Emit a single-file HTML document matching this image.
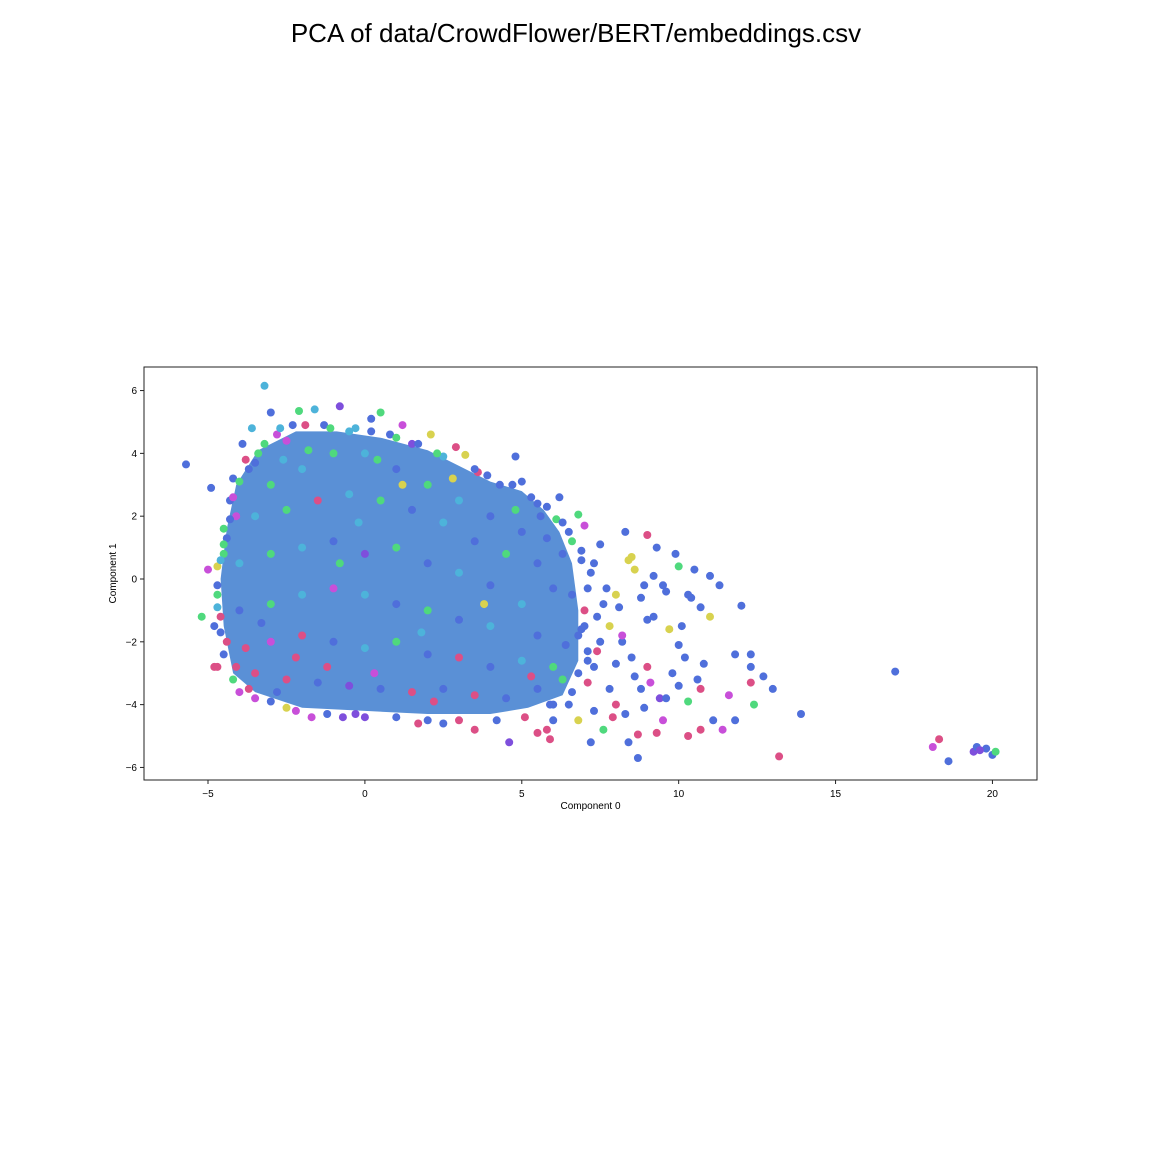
<!DOCTYPE html>
<html><head><meta charset="utf-8">
<style>
html,body{margin:0;padding:0;background:#fff;}
svg{display:block;font-family:"Liberation Sans","DejaVu Sans",sans-serif;}
</style></head>
<body>
<svg id="chart" width="1152" height="1152" viewBox="0 0 1152 1152">
<text x="576" y="42" text-anchor="middle" font-size="26" fill="#000">PCA of data/CrowdFlower/BERT/embeddings.csv</text>
<g id="plot"></g>
<g id="axes"></g>
</svg>
<script>
const xTicks = [-5, 0, 5, 10, 15, 20];
const yTicks = [-6, -4, -2, 0, 2, 4, 6];
const palette = ["#4f6fdb", "#4db3da", "#4fd97d", "#7e4fdc", "#c84fd9", "#dc4f86", "#d8d24f"];
// dense core region outline (data units)
const coreX = [-4.4,-4.1,-3.4,-2.2,-0.9,0.5,2,3,4,5,5.7,6.2,6.6,6.8,6.8,6.3,5.2,4,2,0,-2,-3.5,-4.2,-4.5,-4.6];
const coreY = [1.6,3,4.1,4.7,4.7,4.5,4.1,3.6,3.1,2.8,2.2,1.5,0.5,-1,-2.6,-3.7,-4.1,-4.3,-4.3,-4.2,-4.1,-3.6,-3,-1.5,0];
const ptX = [-5.7,-3.2,-5.2,-4.8,-4.7,-5,-4.9,-4.7,-4.5,-4.2,-3.9,-3.6,-3,-2.1,-1.6,-0.8,0.5,0.2,1.2,2.1,2.9,3.2,4.8,3.9,4.7,5,5.5,6.2,6.8,7,6.5,7.5,8.3,8.5,9,9.3,9.9,10,10.5,11,11.3,12,11,10.3,9.5,8.8,8,8.6,7.7,7.3,7,7.8,7.5,8.2,9.2,9.7,10.1,10,10.2,10.8,11.8,12.3,12.3,12.7,13,12.3,11.6,11.8,11.1,11.4,12.4,10.7,10.3,9.5,9.3,8.7,8.7,8.4,7.2,6.8,7.6,8,8.8,9.4,10,10.7,10.3,9,8.5,7.1,6.5,6,5.8,5.5,5.9,4.6,3.5,2.5,1.7,0,-0.7,-1.7,-2.5,-3.5,-4,-4.2,-4.5,-4.6,-4.8,-4.7,-4.7,-4.5,-4.4,-4.3,-4.1,-3.7,-3.4,-2.8,-2.5,-1.3,-0.5,0.8,1.5,2.5,3.6,16.9,13.9,13.2,18.3,18.1,18.6,19.4,19.5,19.8,20,20.1,19.6,-3,-2,-1,0,1,2,3,4,5,-3.5,-2.5,-1.5,-0.5,0.5,1.5,2.5,3.5,4.5,5.5,6,-4,-3,-2,-1,0,1,2,3,4,5,-4,-3,-2,-1,0,1,2,3,4,5.5,-3.8,-3,-2,-1,0,1,2,3,4,5,6,-3.5,-2.5,-1.5,-0.5,0.5,1.5,2.5,3.5,4.5,5.5,6.3,-2.2,-1.2,-0.8,1.2,2.8,3.8,-2.8,0.3,2.2,-1.8,-2.6,0.4,1.8,-0.2,-3.3,4.8,5.8,6.3,6.6,6.8,6.4,5.3,7.3,7.8,6.9,7.2,7.6,8.1,8.4,8.9,9.2,9.6,10.4,10.7,7.1,7.4,8.0,8.6,9.1,9.8,10.6,7.3,7.9,8.3,8.9,9.6,6.9,7.4,8.2,9.0,5.6,6.1,5.9,
-3.8,-3.2,-2.7,-2.3,-1.9,-1.1,-0.3,0.2,1.0,1.7,2.3,3.5,4.3,5.3,5.8,6.3,6.6,6.9,7.1,7.0,7.1,6.8,6.6,6.0,5.1,4.2,3.0,2.0,1.0,-0.3,-1.2,-2.2,-3.0,-3.7,-4.1,-4.4,-4.6,-4.7,-4.6,-4.5,-4.3,-4.2,-4.0,-3.5];
const ptY = [3.65,6.15,-1.2,-2.8,-2.8,0.3,2.9,0.4,1.6,3.2,4.3,4.8,5.3,5.35,5.4,5.5,5.3,5.1,4.9,4.6,4.2,3.95,3.9,3.3,3,3.1,2.4,2.6,2.05,1.7,1.5,1.1,1.5,0.7,1.4,1,0.8,0.4,0.3,0.1,-0.2,-0.85,-1.2,-0.5,-0.2,-0.6,-0.5,0.3,-0.3,0.5,-1,-1.5,-2,-2,-1.2,-1.6,-1.5,-2.1,-2.5,-2.7,-2.4,-2.4,-2.8,-3.1,-3.5,-3.3,-3.7,-4.5,-4.5,-4.8,-4,-4.8,-5,-4.5,-4.9,-4.95,-5.7,-5.2,-5.2,-4.5,-4.8,-4,-3.5,-3.8,-3.4,-3.5,-3.9,-2.8,-2.5,-3.3,-4,-4.5,-4.8,-4.9,-5.1,-5.2,-4.8,-4.6,-4.6,-4.4,-4.4,-4.4,-4.1,-3.8,-3.6,-3.2,-2.4,-1.7,-1.5,-0.9,-0.5,0.8,1.3,2.5,2,3.5,4,4.6,4.4,4.9,4.7,4.6,4.3,3.9,3.4,-2.95,-4.3,-5.65,-5.1,-5.35,-5.8,-5.5,-5.35,-5.4,-5.6,-5.5,-5.45,3,3.5,4,4,3.5,3,2.5,2,1.5,2,2.2,2.5,2.7,2.5,2.2,1.8,1.2,0.8,0.5,-0.3,0.5,0.8,1,1.2,0.8,1,0.5,0.2,-0.2,-0.8,-1,-0.8,-0.5,-0.3,-0.5,-0.8,-1,-1.3,-1.5,-1.8,-2.2,-2,-1.8,-2,-2.2,-2,-2.4,-2.5,-2.8,-2.6,-2.8,-3,-3.2,-3.3,-3.4,-3.5,-3.6,-3.5,-3.7,-3.8,-3.5,-3.2,-2.5,-2.8,0.5,3,3.2,-0.8,-3.6,-3,-3.9,4.1,3.8,3.8,-1.7,1.8,-1.4,2.2,1.3,0.8,-0.5,-1.8,-2.1,-3.1,-2.8,-3.5,0.9,0.2,-0.8,-0.9,0.6,-0.2,0.1,-0.4,-0.6,-0.9,-2.6,-2.3,-2.7,-3.1,-3.3,-3.0,-3.2,-4.2,-4.4,-4.3,-4.1,-3.8,-1.6,-1.2,-1.8,-1.3,2.0,1.9,-4.0,
3.8,4.3,4.8,4.9,4.9,4.8,4.8,4.7,4.5,4.3,4.0,3.5,3.0,2.6,2.3,1.8,1.2,0.6,-0.3,-1.5,-2.3,-3.0,-3.6,-4.0,-4.4,-4.5,-4.5,-4.5,-4.4,-4.3,-4.3,-4.2,-3.9,-3.5,-2.8,-2.0,-1.2,-0.2,0.6,1.1,1.9,2.6,3.1,3.7];
const ptC = [0,1,2,5,5,4,0,6,2,0,0,1,0,2,1,3,2,0,4,6,5,6,0,0,0,0,0,0,2,4,0,0,0,6,5,0,0,2,0,0,0,0,6,0,0,0,6,6,0,0,5,6,0,0,0,6,0,0,0,0,0,0,0,0,0,5,4,0,0,4,2,5,5,4,5,5,0,0,0,6,2,5,0,3,0,5,2,5,0,5,0,0,5,5,5,3,5,0,5,3,3,4,6,4,4,2,0,0,0,1,2,2,0,0,4,0,2,4,4,0,1,0,3,1,5,0,0,5,5,4,0,3,0,0,0,2,3,2,1,2,1,0,2,1,0,0,1,2,5,1,2,0,1,0,2,0,0,1,2,1,0,3,2,0,1,0,1,0,2,1,4,1,0,2,0,1,0,5,4,5,0,1,2,0,5,0,1,2,5,5,0,3,0,5,0,5,0,0,2,5,5,2,6,6,6,0,4,5,2,1,2,1,1,0,2,0,0,0,0,0,5,0,0,0,0,0,0,6,0,0,0,0,0,0,5,0,0,4,0,0,0,5,0,0,0,0,0,4,0,0,2,0,5,
2,1,0,5,2,1,0,2,0,2,0,0,0,0,0,2,0,0,0,0,0,0,0,5,0,5,0,0,3,0,4,0,5,5,5,5,0,1,2,0,4,2,0,1];

const L=144, R=1037, T=367, B=780;
const xMin=-7.04, xMax=21.42, yMin=-6.4, yMax=6.75;
const sx = v => L + (v - xMin) / (xMax - xMin) * (R - L);
const sy = v => B - (v - yMin) / (yMax - yMin) * (B - T);
const NS="http://www.w3.org/2000/svg";
const plot=document.getElementById('plot'), axes=document.getElementById('axes');

const core=document.createElementNS(NS,'polygon');
core.setAttribute('points', coreX.map((x,i)=>sx(x).toFixed(1)+','+sy(coreY[i]).toFixed(1)).join(' '));
core.setAttribute('fill','#5a90d6');


plot.appendChild(core);

for(let i=0;i<ptX.length;i++){
  const c=document.createElementNS(NS,'circle');
  c.setAttribute('cx',sx(ptX[i]).toFixed(1));
  c.setAttribute('cy',sy(ptY[i]).toFixed(1));
  c.setAttribute('r','4');
  c.setAttribute('fill',palette[ptC[i]]);
  
  
  plot.appendChild(c);
}

const frame=document.createElementNS(NS,'rect');
frame.setAttribute('x',L);frame.setAttribute('y',T);
frame.setAttribute('width',R-L);frame.setAttribute('height',B-T);
frame.setAttribute('fill','none');frame.setAttribute('stroke','#222');frame.setAttribute('stroke-width','1');


axes.appendChild(frame);

xTicks.forEach(v=>{
  const x=sx(v);
  const l=document.createElementNS(NS,'line');
  l.setAttribute('x1',x);l.setAttribute('x2',x);l.setAttribute('y1',B);l.setAttribute('y2',B+4);
  l.setAttribute('stroke','#222');
  
  
  axes.appendChild(l);
  const t=document.createElementNS(NS,'text');
  t.setAttribute('x',x);t.setAttribute('y',B+17);t.setAttribute('text-anchor','middle');t.setAttribute('font-size','10');
  t.textContent=(v<0?'\u2212'+Math.abs(v):String(v));
  
  
  axes.appendChild(t);
});
yTicks.forEach(v=>{
  const y=sy(v);
  const l=document.createElementNS(NS,'line');
  l.setAttribute('x1',L-4);l.setAttribute('x2',L);l.setAttribute('y1',y);l.setAttribute('y2',y);
  l.setAttribute('stroke','#222');
  
  
  axes.appendChild(l);
  const t=document.createElementNS(NS,'text');
  t.setAttribute('x',L-7);t.setAttribute('y',y+3.5);t.setAttribute('text-anchor','end');t.setAttribute('font-size','10');
  t.textContent=(v<0?'\u2212'+Math.abs(v):String(v));
  
  
  axes.appendChild(t);
});
const xl=document.createElementNS(NS,'text');
xl.setAttribute('x',(L+R)/2);xl.setAttribute('y',809);xl.setAttribute('text-anchor','middle');xl.setAttribute('font-size','10');
xl.textContent='Component 0';


axes.appendChild(xl);
const yl=document.createElementNS(NS,'text');
yl.setAttribute('x',0);yl.setAttribute('y',0);yl.setAttribute('text-anchor','middle');yl.setAttribute('font-size','10');
yl.setAttribute('transform','translate(116,'+((T+B)/2)+') rotate(-90)');
yl.textContent='Component 1';


axes.appendChild(yl);
</script>
</body></html>
